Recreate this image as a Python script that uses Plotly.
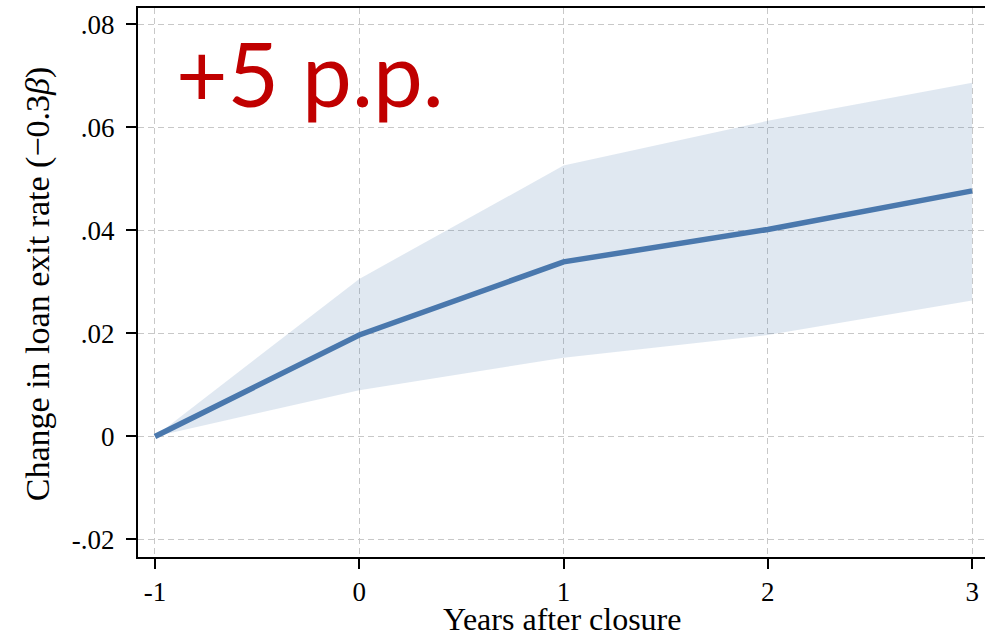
import plotly.graph_objects as go

# Event-time estimates of the change in loan exit rate, with 95% CI band
years = [-1, 0, 1, 2, 3]
estimate = [0.0, 0.0197, 0.0339, 0.0402, 0.0477]
ci_upper = [0.0, 0.0306, 0.0526, 0.0613, 0.0687]
ci_lower = [0.0, 0.0090, 0.0153, 0.0197, 0.0264]

y_ticks = [-0.02, 0.0, 0.02, 0.04, 0.06, 0.08]
y_tick_labels = ["-.02", "0", ".02", ".04", ".06", ".08"]
x_ticks = [-1, 0, 1, 2, 3]
x_tick_labels = ["-1", "0", "1", "2", "3"]

line_color = "#4a78ad"
band_color = "rgba(74,120,173,0.17)"
grid_color = "#c8c8c8"
serif = "Liberation Serif"

fig = go.Figure()

fig.add_trace(go.Scatter(
    x=years + years[::-1],
    y=ci_upper + ci_lower[::-1],
    fill="toself",
    fillcolor=band_color,
    line=dict(width=0),
    mode="lines",
    hoverinfo="skip",
    showlegend=False,
))

fig.add_trace(go.Scatter(
    x=years,
    y=estimate,
    mode="lines",
    line=dict(color=line_color, width=5.5),
    showlegend=False,
))

# Headline effect size
fig.add_annotation(
    x=-0.905, y=0.0706, xref="x", yref="y",
    text="+5 p.p.", showarrow=False,
    xanchor="left", yanchor="middle",
    font=dict(family="Lato", size=89, color="#c00000"),
)

# Axis titles placed as annotations for precise positioning
fig.add_annotation(
    x=0.5, y=-0.113, xref="paper", yref="paper",
    text="Years after closure", showarrow=False,
    xanchor="center", yanchor="middle",
    font=dict(family=serif, size=32, color="black"),
)
fig.add_annotation(
    x=-0.118, y=0.497, xref="paper", yref="paper",
    text="Change in loan exit rate (\u22120.3<i>\u03b2</i>)", showarrow=False,
    xanchor="center", yanchor="middle", textangle=-90,
    font=dict(family=serif, size=34, color="black"),
)

fig.update_layout(
    width=985, height=638,
    margin=dict(l=138, r=0, t=8, b=81),
    paper_bgcolor="white",
    plot_bgcolor="white",
    font=dict(family=serif, color="black"),
)

fig.update_xaxes(
    range=[-1.083, 3.063],
    tickmode="array", tickvals=x_ticks, ticktext=x_tick_labels,
    ticks="outside", ticklen=10, tickwidth=1.5, tickcolor="black",
    tickfont=dict(family=serif, size=27),
    showline=True, linecolor="black", linewidth=2, mirror=True,
    showgrid=True, gridcolor=grid_color, gridwidth=1, griddash="6px,4px",
    zeroline=False,
)

fig.update_yaxes(
    range=[-0.0234, 0.0832],
    tickmode="array", tickvals=y_ticks, ticktext=y_tick_labels,
    ticks="outside", ticklen=10, tickwidth=1.5, tickcolor="black",
    tickfont=dict(family=serif, size=27),
    ticklabelstandoff=6,
    showline=True, linecolor="black", linewidth=2,
    showgrid=True, gridcolor=grid_color, gridwidth=1, griddash="6px,4px",
    zeroline=False,
)

fig.write_html("out.html")
